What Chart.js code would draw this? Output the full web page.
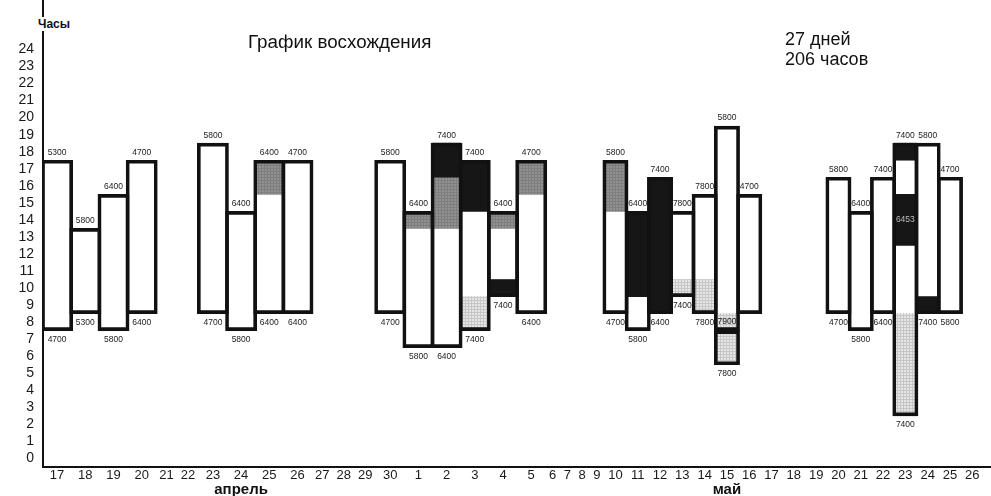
<!DOCTYPE html>
<html lang="ru">
<head>
<meta charset="utf-8">
<title>График восхождения</title>
<script src="https://cdn.jsdelivr.net/npm/chart.js@4.4.1/dist/chart.umd.min.js"></script>
<style>
  html, body { margin: 0; padding: 0; background: #fff; }
  #wrap { position: relative; width: 991px; height: 496px; font-family: "Liberation Sans", Arial, sans-serif; color: #111; overflow: hidden; }
  #wrap canvas { position: absolute; left: 0; top: 0; }
  .note { position: absolute; white-space: nowrap; }
</style>
</head>
<body>
<div id="wrap">
  <canvas id="chart" width="991" height="496"></canvas>
  <div class="note" style="left:248px;top:31px;font-size:18.8px">График восхождения</div>
  <div class="note" style="left:785px;top:29px;font-size:18px;line-height:20px">27 дней<br>206 часов</div>
  <div class="note" style="left:37px;top:17px;font-size:12px;font-weight:bold;background:#fff;padding:0 1px">Часы</div>
</div>
<script>
// дни по оси X
const aprilDays = [17, 18, 19, 20, 21, 22, 23, 24, 25, 26, 27, 28, 29, 30];
const mayDays = [1, 2, 3, 4, 5, 6, 7, 8, 9, 10, 11, 12, 13, 14, 15, 16, 17, 18, 19, 20, 21, 22, 23, 24, 25, 26];
const hourTicks = [0, 1, 2, 3, 4, 5, 6, 7, 8, 9, 10, 11, 12, 13, 14, 15, 16, 17, 18, 19, 20, 21, 22, 23, 24];

// дни восхождения: начало/конец (часы) и высота в начале/конце
const climbDays = ['17.04', '18.04', '19.04', '20.04', '23.04', '24.04', '25.04', '26.04', '30.04',
  '1.05', '2.05', '3.05', '4.05', '5.05', '10.05', '11.05', '12.05', '13.05', '14.05', '15.05', '16.05',
  '20.05', '21.05', '22.05', '23.05', '24.05', '25.05'];
const startHour = [8, 9, 8, 9, 9, 8, 9, 9, 9, 7, 7, 8, 10, 9, 9, 8, 9, 10, 9, 8, 9, 9, 8, 9, 3, 9, 9];
const endHour = [18, 14, 16, 18, 19, 15, 18, 18, 18, 15, 19, 18, 15, 18, 18, 15, 17, 15, 16, 20, 16, 17, 15, 17, 19, 19, 17];
const startAlt = [4700, 5300, 5800, 6400, 4700, 5800, 6400, 6400, 4700, 5800, 6400, 7400, 7400, 6400,
  4700, 5800, 6400, 7400, 7800, 7900, null, 4700, 5800, 6400, 7400, 7400, 5800];
const endAlt = [5300, 5800, 6400, 4700, 5800, 6400, 6400, 4700, 5800, 6400, 7400, 7400, 6400, 4700,
  5800, 6400, 7400, 7800, 7800, 5800, 4700, 5800, 6400, 7400, 7400, 5800, 4700];

// дополнительный отрезок (день, с, до, высота внизу)
const extraBoxes = [['15.05', 6, 8, 7800]];

// заштрихованные части: [день, с, до]
const greyParts = [['25.04', 16, 18], ['1.05', 14, 15], ['2.05', 14, 17], ['4.05', 14, 15], ['5.05', 16, 18], ['10.05', 15, 18]];
const darkParts = [['2.05', 17, 19], ['3.05', 15, 18], ['4.05', 10, 11], ['11.05', 10, 15], ['12.05', 9, 17],
  ['23.05', 18, 19], ['23.05', 13, 16], ['24.05', 9, 10]];
const lightParts = [['3.05', 8, 10], ['13.05', 10, 11], ['14.05', 9, 11], ['15.05', 8, 9], ['15.05', 6, 8], ['23.05', 3, 9]];
const innerLabels = [['23.05', 14.5, 6453]];

const dayKeys = aprilDays.map(d => d + '.04').concat(mayDays.map(d => d + '.05'));
const dayLabels = aprilDays.concat(mayDays).map(String);

// ширина колонок (px), как на скане: в начале шире, 6-9 мая сжаты
function slotWidth(key, climbing) {
  const [d, m] = key.split('.').map(Number);
  if (m === 5 && d >= 10) return 22.3;
  if (m === 5 && d >= 6) return 14.75;
  return climbing ? 28.2 : 21.5;
}

const centers = {};
let acc = 0;
dayKeys.forEach(k => {
  const w = slotWidth(k, climbDays.includes(k));
  centers[k] = acc + w / 2;
  acc += w;
});

function makePattern(base, line) {
  const c = document.createElement('canvas');
  c.width = 3; c.height = 3;
  const g = c.getContext('2d');
  g.fillStyle = base; g.fillRect(0, 0, 3, 3);
  g.fillStyle = line; g.fillRect(0, 0, 3, 1); g.fillRect(0, 0, 1, 3);
  return g.createPattern(c, 'repeat');
}

// разбиваем по ширине колонки -> отдельные наборы
function buildSets(parts, style, extra) {
  const byWidth = {};
  parts.forEach(p => {
    const w = slotWidth(p[0], true);
    (byWidth[w] = byWidth[w] || []).push({ x: centers[p[0]], y: [p[1], p[2]] });
  });
  return Object.keys(byWidth).map(w => Object.assign({
    data: byWidth[w],
    barThickness: +w + (extra || 0),
    grouped: false,
    borderWidth: 0
  }, style));
}

const boxes = climbDays.map((k, i) => [k, startHour[i], endHour[i]]).concat(extraBoxes.map(b => [b[0], b[1], b[2]]));

const datasets = [].concat(
  buildSets(boxes, { backgroundColor: 'transparent', borderColor: '#111', borderWidth: 3, borderSkipped: false, order: 1 }, 3),
  buildSets(darkParts, { backgroundColor: '#161616', order: 2 }),
  buildSets(greyParts, { backgroundColor: makePattern('#919191', '#7e7e7e'), order: 2 }),
  buildSets(lightParts, { backgroundColor: makePattern('#e6e6e6', '#c6c6c6'), order: 2 }),
  buildSets(boxes, { backgroundColor: '#fff', order: 3 })
);

const labelPlugin = {
  id: 'altLabels',
  afterDatasetsDraw(chart) {
    const { ctx, scales: { x, y } } = chart;
    ctx.save();
    ctx.textAlign = 'center';
    ctx.textBaseline = 'middle';
    ctx.font = '8.5px "Liberation Sans", Arial, sans-serif';
    ctx.fillStyle = '#222';
    climbDays.forEach((k, i) => {
      const cx = x.getPixelForValue(centers[k]);
      if (endAlt[i] != null) ctx.fillText(endAlt[i], cx, y.getPixelForValue(endHour[i]) - 8);
      if (startAlt[i] != null) {
        const yy = y.getPixelForValue(startHour[i]);
        const under = extraBoxes.some(b => b[0] === k && b[2] === startHour[i]);
        ctx.fillText(startAlt[i], cx, under ? yy - 9 : yy + 9);
      }
    });
    extraBoxes.forEach(b => ctx.fillText(b[3], x.getPixelForValue(centers[b[0]]), y.getPixelForValue(b[1]) + 9));
    ctx.fillStyle = '#bbb';
    innerLabels.forEach(l => ctx.fillText(l[2], x.getPixelForValue(centers[l[0]]), y.getPixelForValue(l[1])));
    // месяцы
    ctx.fillStyle = '#111';
    ctx.font = 'bold 15px "Liberation Sans", Arial, sans-serif';
    ctx.fillText('апрель', x.getPixelForValue(centers['24.04']), 490);
    ctx.fillText('май', x.getPixelForValue(centers['15.05']), 490);
    ctx.restore();
  }
};

new Chart(document.getElementById('chart'), {
  type: 'bar',
  data: { datasets },
  options: {
    responsive: false,
    animation: false,
    layout: { padding: { left: 0, right: 1, top: 0, bottom: 0 } },
    plugins: { legend: { display: false }, tooltip: { enabled: false } },
    scales: {
      x: {
        type: 'linear',
        min: 0,
        max: 947,
        offset: false,
        grid: { display: false, drawTicks: false },
        border: { display: true, color: '#111', width: 2 },
        afterBuildTicks: s => { s.ticks = dayKeys.map(k => ({ value: centers[k] })); },
        afterFit: s => { s.height = 29; s.paddingLeft = 0; s.paddingRight = 0; },
        ticks: {
          autoSkip: false, maxRotation: 0, minRotation: 0, padding: 1,
          color: '#1a1a1a',
          font: { family: '"Liberation Sans", Arial, sans-serif', size: 13 },
          callback: (v, i) => dayLabels[i]
        }
      },
      y: {
        type: 'linear',
        min: 0,
        max: 27.4,
        grid: { display: false, drawTicks: false },
        border: { display: true, color: '#111', width: 2 },
        afterBuildTicks: s => { s.ticks = hourTicks.map(h => ({ value: h + 0.5 })); },
        afterFit: s => { s.width = 43; s.paddingTop = 0; s.paddingBottom = 0; },
        ticks: {
          autoSkip: false,
          padding: 9,
          color: '#1a1a1a',
          font: { family: '"Liberation Sans", Arial, sans-serif', size: 14 },
          callback: (v, i) => hourTicks[i]
        }
      }
    }
  },
  plugins: [labelPlugin]
});
</script>
</body>
</html>
